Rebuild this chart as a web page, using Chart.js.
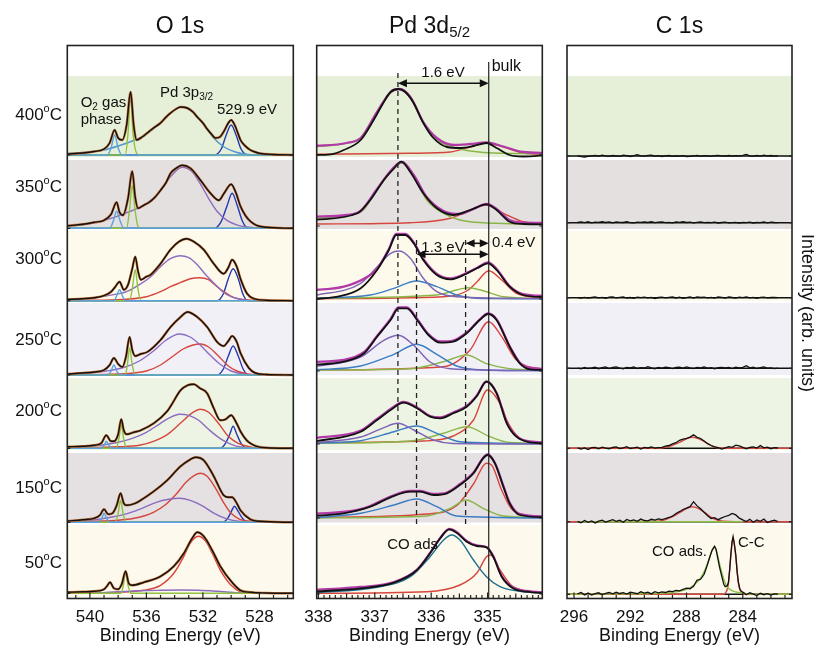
<!DOCTYPE html>
<html><head><meta charset="utf-8">
<script src="https://cdn.jsdelivr.net/npm/chart.js@4.4.1/dist/chart.umd.min.js"></script>
<style>
html,body{margin:0;padding:0;background:#fff;}
#wrap{position:relative;width:814px;height:645px;overflow:hidden;background:#fff;}
.cv{position:absolute;top:0;height:645px;}
</style></head><body>
<div id="wrap">
<div class="cv" style="left:0;width:305px"><canvas id="cO" width="305" height="645"></canvas></div>
<div class="cv" style="left:300px;width:260px"><canvas id="cP" width="260" height="645"></canvas></div>
<div class="cv" style="left:555px;width:259px"><canvas id="cC" width="259" height="645"></canvas></div>
</div>
<script>
// ---------------- DATA ----------------
const temps = ['400','350','300','250','200','150','50'];
const oTicks = [540,536,532,528];
const pdTicks = [338,337,336,335];
const cTicks = [296,292,288,284];

// O 1s  [binding energy, intensity above row baseline]
const o400Black=[[541.6,1],[540.5,2],[539.7,3.5],[539.0,6],[538.6,12],[538.25,25],[538.0,17],[537.71,15],[537.4,30],[537.12,63],[536.9,30],[536.7,15],[536.3,18],[535.94,22],[535.5,27],[535.0,32],[534.6,38],[534.29,42],[533.9,46],[533.58,48],[533.11,47],[532.7,43],[532.4,38],[532.0,32],[531.7,26],[531.4,21],[531.11,17],[530.8,18],[530.5,24],[530.2,32],[530.0,35],[529.75,30],[529.5,21],[529.34,15],[529.0,9],[528.64,5],[528.3,3],[527.93,1.5],[527.0,0.5],[525.6,0]];
const o400Gas=[[541.6,0],[538.75,0],[538.5,7],[538.25,20],[538.0,7],[537.75,0],[525.6,0]];
const o400Green=[[541.6,0],[537.5,0],[537.3,22],[537.12,60],[536.95,22],[536.7,2],[536.5,0],[525.6,0]];
const o400P3p=[[541.6,1.5],[540.0,3],[539.0,5],[538.0,9],[537.0,14],[536.0,21],[535.0,32],[534.3,42],[533.5,48],[532.8,44],[532.0,32],[531.3,18],[530.5,8],[529.7,3],[528.8,0.5],[527.5,0],[525.6,0]];
const o400Ox=[[541.6,0],[531.2,0],[530.7,6],[530.35,20],[530.0,30],[529.65,20],[529.3,6],[528.8,0],[525.6,0]];

const o350Black=[[541.6,2.5],[540.5,4],[539.7,6],[539.0,8],[538.5,14],[538.11,26],[537.9,16],[537.66,13],[537.3,30],[537.0,57],[536.8,32],[536.6,20],[536.2,23],[535.8,26],[535.4,31],[535.0,38],[534.6,46],[534.29,55],[533.9,60],[533.47,63],[532.88,60],[532.17,48],[531.46,35],[530.87,28],[530.5,35],[530.0,44],[529.65,35],[529.34,22],[529.0,13],[528.64,7],[528.2,3],[527.5,1],[525.6,0]];
const o350Gas=[[541.6,0],[538.6,0],[538.35,7],[538.11,17],[537.85,7],[537.6,0],[525.6,0]];
const o350Green=[[541.6,0],[537.4,0],[537.2,18],[537.0,43],[536.8,18],[536.6,2],[536.4,0],[525.6,0]];
const o350Pur=[[541.6,2],[540.5,3.5],[539.5,6],[538.5,10],[537.5,15],[536.5,21],[535.5,30],[534.8,42],[534.2,53],[533.47,61],[532.8,57],[532.2,45],[531.6,30],[531.0,17],[530.3,8],[529.5,3],[528.7,1],[527.5,0],[525.6,0]];
const o350Ox=[[541.6,0],[531.2,0],[530.7,7],[530.3,22],[529.93,35],[529.55,22],[529.2,7],[528.8,0],[525.6,0]];

const o300Black=[[541.6,1.3],[540.5,2],[539.7,3],[539.0,5],[538.5,9],[538.2,14],[537.9,19],[537.6,11],[537.3,16],[537.0,32],[536.79,44],[536.6,30],[536.4,21],[536.0,24],[535.7,26],[535.0,37],[534.3,51],[533.7,59],[533.16,62],[532.64,59],[531.94,51],[531.23,37],[530.53,27],[530.2,33],[529.93,41],[529.6,34],[529.34,22],[528.87,7],[528.4,2],[527.5,0.5],[525.6,0]];
const o300Gas=[[541.6,0],[538.3,0],[538.1,5],[537.9,11],[537.7,5],[537.5,0],[525.6,0]];
const o300Green=[[541.6,0],[537.2,0],[537.0,12],[536.79,31],[536.6,12],[536.4,0],[525.6,0]];
const o300Pur=[[541.6,1],[540.0,2.5],[538.8,5],[537.4,9],[536.5,16],[535.7,24],[535.0,34],[534.3,42],[533.63,45],[533.0,43],[532.4,36],[531.8,26],[531.1,16],[530.6,9],[530.0,4],[529.2,1],[528.4,0],[525.6,0]];
const o300Red=[[541.6,0.3],[538.0,1],[536.0,4],[535.0,9],[534.3,14],[533.6,18],[532.9,22],[532.22,23],[531.6,21],[531.0,14],[530.3,7],[529.8,3],[529.0,1],[528.0,0],[525.6,0]];
const o300Ox=[[541.6,0],[531.0,0],[530.55,7],[530.2,22],[529.86,32],[529.5,22],[529.15,6],[528.8,0],[525.6,0]];

const o250Black=[[541.6,1],[540.5,2],[539.7,3],[539.0,5],[538.6,10],[538.3,17],[538.0,11],[537.7,8],[537.45,18],[537.19,38],[537.0,25],[536.8,19],[536.4,21],[535.94,23],[535.0,35],[534.29,48],[533.58,58],[533.09,63],[532.4,58],[531.7,48],[530.99,33],[530.53,29],[530.2,34],[529.93,39],[529.6,33],[529.34,22],[528.75,7],[528.3,2],[527.5,0.5],[525.6,0]];
const o250Gas=[[541.6,0],[538.7,0],[538.5,4],[538.3,10],[538.1,4],[537.9,0],[525.6,0]];
const o250Green=[[541.6,0],[537.5,0],[537.35,10],[537.19,27],[537.0,10],[536.8,0],[525.6,0]];
const o250Pur=[[541.6,1],[540.0,2],[538.8,4],[537.5,8],[536.5,14],[535.5,24],[534.6,35],[533.66,41],[532.9,38],[532.2,30],[531.5,20],[530.8,11],[530.0,4],[529.2,1],[528.4,0],[525.6,0]];
const o250Red=[[541.6,0.3],[538.0,1],[536.0,4],[535.0,10],[534.2,18],[533.4,26],[532.7,30],[532.17,31],[531.6,28],[530.9,19],[530.2,9],[529.6,4],[528.8,1],[528.0,0],[525.6,0]];
const o250Ox=[[541.6,0],[531.0,0],[530.55,6],[530.2,19],[529.86,29],[529.5,19],[529.15,6],[528.8,0],[525.6,0]];

const o200Black=[[541.6,1.5],[540.5,2],[539.7,3],[539.2,5],[538.84,13],[538.5,7],[538.3,7],[538.0,14],[537.78,29],[537.6,18],[537.4,14],[536.9,16],[536.41,18],[535.47,25],[534.53,37],[534.29,42],[533.58,58],[533.1,63],[532.64,64],[532.2,60],[531.7,55],[531.23,40],[530.76,28],[530.4,29],[530.0,33],[529.65,26],[529.34,17],[528.9,8],[528.64,5],[528.2,2],[527.5,0.5],[525.6,0]];
const o200Gas=[[541.6,0],[539.2,0],[539.0,3],[538.84,7],[538.65,3],[538.45,0],[525.6,0]];
const o200Green=[[541.6,0],[538.15,0],[537.95,9],[537.78,23],[537.6,9],[537.4,0],[525.6,0]];
const o200Pur=[[541.6,1],[540.0,2],[539.0,3.5],[538.0,6],[537.0,10],[536.0,16],[535.0,25],[534.3,31],[533.66,34],[533.0,33],[532.3,28],[531.6,19],[530.8,10],[530.0,4],[529.2,1],[528.4,0],[525.6,0]];
const o200Red=[[541.6,0.3],[538.0,1.5],[536.5,3],[535.5,7],[534.5,14],[533.6,25],[532.8,35],[532.17,39],[531.6,36],[530.9,25],[530.2,12],[529.5,5],[528.7,1.5],[528.0,0],[525.6,0]];
const o200Ox=[[541.6,0],[530.8,0],[530.4,5],[530.1,14],[529.86,22],[529.6,14],[529.3,5],[528.9,0],[525.6,0]];

const o150Black=[[541.6,1.3],[540.5,2.5],[539.7,4],[539.3,7],[539.0,13],[538.7,8],[538.4,9],[538.1,17],[537.83,29],[537.6,19],[537.4,17],[536.8,19],[536.41,22],[535.47,31],[534.53,42],[533.58,56],[532.88,63],[532.52,65],[531.94,62],[531.23,46],[530.53,27],[530.2,25],[529.93,25],[529.6,19],[529.34,12],[528.64,3],[528.0,1],[525.6,0]];
const o150Gas=[[541.6,0],[539.35,0],[539.15,4],[539.0,9],[538.82,4],[538.6,0],[525.6,0]];
const o150Green=[[541.6,0],[538.2,0],[538.0,9],[537.83,22],[537.65,9],[537.45,0],[525.6,0]];
const o150Pur=[[541.6,0.8],[540.0,2],[538.5,5],[537.3,9],[536.3,14],[535.3,20],[534.4,23],[533.66,24],[532.9,22],[532.1,17],[531.2,9],[530.4,4],[529.5,1],[528.5,0],[525.6,0]];
const o150Red=[[541.6,0.3],[538.0,2],[536.5,5],[535.5,10],[534.7,17],[533.9,28],[533.2,40],[532.6,47],[532.17,49],[531.7,46],[531.1,34],[530.5,19],[530.0,9],[529.4,3],[528.6,1],[527.8,0],[525.6,0]];
const o150Ox=[[541.6,0],[530.6,0],[530.2,5],[529.95,12],[529.77,16],[529.55,12],[529.25,5],[528.9,0],[525.6,0]];

const o50Black=[[541.6,1],[540.5,1.5],[539.7,2],[539.0,4],[538.8,7],[538.58,11],[538.3,5],[538.0,4],[537.75,9],[537.47,22],[537.25,10],[537.0,8],[536.18,11],[535.0,17],[534.06,27],[533.35,40],[532.76,55],[532.4,61],[531.94,57],[531.34,43],[530.76,27],[530.0,12],[529.34,3],[528.6,1],[527.5,0.3],[525.6,0]];
const o50Green=[[541.6,0],[537.8,0],[537.63,8],[537.47,21],[537.3,8],[537.1,0],[525.6,0]];
const o50Pur=[[541.6,0],[539.5,0.5],[538.0,1.5],[536.5,2.5],[535.0,3],[533.6,3.3],[532.3,3],[531.0,2],[529.5,0.5],[528.5,0],[525.6,0]];
const o50Red=[[541.6,0.2],[538.0,1],[536.2,3],[535.0,8],[534.06,20],[533.35,37],[532.9,50],[532.33,57],[531.8,52],[531.34,40],[530.76,23],[530.0,8],[529.34,1.5],[528.5,0],[525.6,0]];

// Pd 3d5/2
const p400Black=[[338.1,0],[337.78,0.7],[337.55,5],[337.25,15],[337.02,35],[336.87,50],[336.72,63],[336.58,66],[336.46,63],[336.31,52],[336.14,32],[335.96,17],[335.72,8],[335.49,7],[335.25,9],[335.02,12],[334.84,7],[334.61,0],[334.37,-1.5],[333.95,0]];
const p400Mag=[[338.1,9],[337.5,12],[337.25,17],[336.96,43],[336.72,63],[336.56,66],[336.37,58],[336.14,33],[335.9,17],[335.6,10],[335.31,11],[335.02,12.5],[334.72,8.5],[334.37,3],[333.95,2]];
const p400Green=[[338.1,8],[337.25,17],[336.96,42],[336.72,62],[336.56,66],[336.37,57],[336.14,32],[335.9,15],[335.49,6],[334.9,2],[333.95,1.3]];
const p400Red=[[338.1,0.7],[336.37,1.7],[335.66,3],[335.31,8],[335.02,12],[334.72,8],[334.37,2],[333.95,0.7]];

const p350Black=[[338.1,6],[337.31,12.7],[337.08,26],[336.84,46],[336.66,57.7],[336.53,64.3],[336.37,54],[336.14,32.7],[335.9,17.7],[335.61,11],[335.31,16],[335.02,21.7],[334.84,16],[334.61,4.3],[334.37,2],[333.95,1.7]];
const p350Mag=[[338.1,9.3],[337.5,11],[337.25,15],[336.96,37],[336.69,57],[336.52,64],[336.31,51],[336.08,29],[335.78,15],[335.49,12],[335.25,17],[335.02,22],[334.84,17],[334.61,6],[334.37,3.5],[333.95,3]];
const p350Green=[[338.1,7.7],[337.25,14],[336.96,36],[336.69,56],[336.52,63],[336.31,49],[336.08,26],[335.78,12.7],[335.49,6],[334.84,2.7],[333.95,1.7]];
const p350Red=[[338.1,2],[336.37,3.3],[335.66,7.7],[335.31,16],[335.02,21],[334.72,12.7],[334.37,4.3],[333.95,2]];

const p300Black=[[338.1,0],[337.66,2.3],[337.25,10.7],[336.96,29],[336.75,49],[336.62,64],[336.46,64],[336.31,55.7],[336.14,39],[335.9,24],[335.66,19.7],[335.49,22.3],[335.19,30.7],[334.99,35.7],[334.84,29],[334.61,12.3],[334.37,4],[333.95,1.7]];
const p300Mag=[[338.1,8.7],[337.55,12.3],[337.13,22.3],[336.96,30],[336.75,50],[336.62,65],[336.46,65],[336.31,56.5],[336.14,40],[335.9,25],[335.66,20.5],[335.49,23],[335.19,31],[334.99,36.5],[334.84,30],[334.61,13],[334.37,5],[333.95,3]];
const p300Pur=[[338.1,3],[337.25,15.7],[336.96,32],[336.72,45.7],[336.56,48],[336.37,40.7],[336.14,20.7],[335.9,7.3],[335.55,2.3],[333.95,0.3]];
const p300Blue=[[338.1,0.7],[337.08,4],[336.66,10.7],[336.26,18],[335.9,12.3],[335.55,4],[335.08,0.5],[333.95,0.3]];
const p300Green=[[338.1,0.7],[335.9,4],[335.55,9],[335.34,11.3],[335.08,8.3],[334.72,2.3],[333.95,0.3]];
const p300Red=[[338.1,0.3],[335.78,2.3],[335.37,8],[335.19,17],[334.98,28.3],[334.75,19],[334.49,5.7],[333.95,0.7]];

const p250Black=[[338.1,6],[337.55,9.3],[337.19,17.7],[336.96,34.3],[336.72,51],[336.58,62.7],[336.43,62.7],[336.25,51],[336.05,36],[335.84,28.3],[335.61,29.3],[335.37,37.7],[335.14,51],[334.99,57],[334.84,51],[334.61,24.3],[334.43,7.7],[334.25,1.7],[333.95,1]];
const p250Mag=[[338.1,9],[337.55,11],[337.19,19],[336.96,35],[336.72,52],[336.58,63.5],[336.43,63.5],[336.25,52],[336.05,37],[335.84,29.5],[335.61,30.5],[335.37,38.5],[335.14,51.5],[334.99,57.5],[334.84,51.5],[334.61,25],[334.43,8.5],[334.25,3],[333.95,2]];
const p250Pur=[[338.1,4],[337.25,14],[336.84,30.7],[336.58,35.7],[336.31,25.7],[336.02,9],[335.66,2.3],[333.95,0.3]];
const p250Blue=[[338.1,1],[337.25,5],[336.66,16.7],[336.26,26.7],[335.9,16.7],[335.55,5],[335.08,1],[333.95,0.3]];
const p250Green=[[338.1,1],[336.37,2.3],[335.78,9.3],[335.37,16],[335.02,7.3],[334.61,2.3],[333.95,1]];
const p250Red=[[338.1,1],[335.78,4.3],[335.31,21],[334.98,49.3],[334.75,34.3],[334.49,11],[333.95,1]];

const p200Black=[[338.1,2.3],[337.25,12.3],[336.96,24],[336.72,34],[336.49,41.3],[336.25,35.7],[336.02,27.3],[335.84,25.7],[335.61,30.7],[335.37,37.3],[335.19,48],[335.02,62.3],[334.84,50.7],[334.66,20.7],[334.49,7.3],[334.25,1.7],[333.95,0.7]];
const p200Mag=[[338.1,5.7],[337.25,13.5],[336.96,25],[336.72,35],[336.49,42],[336.25,36.5],[336.02,28],[335.84,26.5],[335.61,31.5],[335.37,38],[335.19,48.5],[335.02,62.5],[334.84,51],[334.66,21.5],[334.49,8],[334.25,2.5],[333.95,1.5]];
const p200Pur=[[338.1,1],[337.25,7],[336.87,15.7],[336.59,20.7],[336.31,14],[335.96,4],[335.61,0.5],[333.95,0]];
const p200Blue=[[338.1,0.7],[337.25,3.3],[336.66,12.3],[336.26,18],[335.9,10.7],[335.49,2.3],[333.95,0.3]];
const p200Green=[[338.1,0.7],[336.37,3],[335.78,10.7],[335.37,17.3],[334.96,7.3],[334.61,1.5],[333.95,0.7]];
const p200Red=[[338.1,1.3],[336.14,3],[335.61,8],[335.25,24],[335.0,54],[334.75,37.3],[334.66,24],[334.49,9],[334.25,1.5],[333.95,1.3]];

const p150Black=[[338.1,2],[337.55,4.7],[337.08,11.3],[336.72,20.7],[336.37,26.3],[336.19,26.3],[335.96,23],[335.72,24.7],[335.49,33],[335.25,44.7],[335.08,59.7],[335.0,63],[334.87,54.7],[334.72,31.3],[334.61,14.7],[334.43,3],[333.95,0.7]];
const p150Mag=[[338.1,4],[337.31,8],[337.08,12],[336.72,21.5],[336.37,27],[336.19,27],[335.96,24],[335.72,25.5],[335.49,34],[335.25,45.5],[335.08,60],[335.0,63.5],[334.87,55],[334.72,32],[334.61,15.5],[334.43,4],[333.95,1.5]];
const p150Blue=[[338.1,0],[337.25,4.7],[336.66,13],[336.26,19],[335.9,11.3],[335.55,2],[333.95,0]];
const p150Green=[[338.1,0],[336.08,2],[335.66,9.7],[335.38,18],[335.08,9.7],[334.72,2],[333.95,0.5]];
const p150Red=[[338.1,0.5],[336.08,4],[335.55,12.3],[335.25,34],[335.02,54.7],[334.93,53],[334.75,27.7],[334.55,7.7],[333.95,0.5]];

const p50Black=[[338.1,2.3],[337.25,5.7],[336.66,11.3],[336.25,24],[336.02,40.7],[335.84,55.7],[335.68,64.7],[335.55,61.3],[335.37,52.3],[335.19,48],[335.02,46.7],[334.9,37.3],[334.75,17.3],[334.55,5.7],[334.31,2.3],[333.95,0.7]];
const p50Mag=[[338.1,4],[337.25,7],[336.66,12],[336.25,24.5],[336.02,41],[335.84,56],[335.68,65],[335.55,62],[335.37,53],[335.19,48.5],[335.02,47],[334.9,38],[334.75,18],[334.55,6.5],[334.31,3],[333.95,1.5]];
const p50Teal=[[338.1,1.3],[336.96,6.7],[336.37,17.3],[336.02,37.3],[335.78,54],[335.64,59],[335.49,54],[335.25,34],[335.02,17.3],[334.78,7.3],[334.37,2.3],[333.95,1.3]];
const p50Red=[[338.1,0.7],[336.08,2.3],[335.49,9],[335.19,21],[335.02,37.3],[334.95,39],[334.78,24],[334.55,7.3],[333.95,0.7]];

// C 1s : energies of the measured points (shared by the rows)
const cEnergy=[295.75,295.5,295.25,295.0,294.75,294.5,294.25,294.0,293.75,293.5,293.25,293.0,292.75,292.5,292.25,292.0,291.75,291.5,291.25,291.0,290.75,290.5,290.25,290.0,289.75,289.5,289.25,289.0,288.75,288.5,288.25,288.0,287.75,287.5,287.25,287.0,286.75,286.5,286.25,286.0,285.75,285.5,285.25,285.0,284.75,284.5,284.25,284.0,283.75,283.5,283.25,283.0,282.75,282.5,282.25,282.0,281.75,281.5];
const c400=[0.3,-0.6,-1.0,-0.3,0.2,0.6,-0.2,0.9,0.1,-0.4,0.5,0.2,-0.3,0.8,0.4,-0.5,0.3,1.3,0.2,-0.2,0.6,0.8,-0.2,0.4,-0.5,0.1,0.5,-0.4,0.2,-0.1,0.4,-0.6,-0.3,0.2,0.7,-0.3,0.3,0.1,-0.4,0.3,0.6,0.2,-0.2,0.5,-0.1,0.3,0.1,0.7,1.6,0.2,-0.4,0.6,-0.2,0.9,0.2,0.5,-0.2,0.1];
const c350=[0.2,0.8,0.1,1.0,-0.2,0.6,0.3,1.1,0.2,0.7,-0.1,0.9,0.4,0.2,1.0,0.1,-0.2,0.6,0.3,0.8,0.2,1.1,0.0,0.5,0.9,0.1,0.4,-0.1,0.7,0.3,1.0,0.2,0.5,-0.2,0.3,0.8,0.1,0.4,0.0,0.6,-0.3,0.2,0.5,-0.2,0.1,0.4,-0.4,0.3,0.0,0.5,-0.3,0.4,0.1,0.8,-0.2,0.6,0.2,0.0];
const c300=[0.1,-0.3,0.4,-0.5,0.2,0.7,-0.2,0.3,-0.6,0.5,0.8,-0.1,0.4,0.9,-0.3,0.2,-0.7,0.5,0.1,0.6,-0.2,0.3,-0.8,0.2,0.6,-0.1,0.4,0.7,-0.3,0.5,-0.6,0.1,0.8,-0.4,0.9,0.2,0.6,-0.2,0.3,-0.5,0.7,0.4,-0.3,0.8,0.2,-0.5,0.6,0.1,0.9,-0.2,0.4,-0.6,0.3,0.5,-0.1,0.2,0.4,0.0];
const c250=[0.2,-0.5,0.9,-0.2,0.4,1.2,-0.4,0.6,1.4,-0.3,0.8,1.5,0.2,-0.6,1.0,0.4,1.3,-0.2,0.7,0.3,1.6,0.5,-0.4,0.9,0.2,1.1,0.6,-0.3,0.8,1.2,0.1,1.4,0.4,-0.2,0.9,0.5,1.3,0.2,0.7,-0.4,0.6,1.0,0.3,0.8,-0.3,1.2,0.5,0.9,2.6,0.4,1.1,-0.2,0.7,1.3,0.1,0.5,-0.3,0.2];
const c200=[0.5,-0.8,0.3,-1.2,0.6,0.9,-0.5,1.2,0.2,-0.6,0.8,1.4,-0.3,0.5,1.6,-0.2,0.4,1.1,-0.7,0.9,0.3,1.3,0.1,0.7,1.0,2.2,2.8,4.5,5.6,8.0,9.2,10.0,11.2,13.5,11.0,9.8,7.2,4.6,2.8,1.5,0.6,-0.8,0.4,1.6,0.9,3.2,2.4,1.0,-0.6,0.8,1.5,0.2,2.8,0.5,1.2,-0.4,0.6,0.3];
const c150=[0.3,-1.0,1.2,-0.6,0.8,-1.2,0.5,1.6,-0.4,0.9,2.0,0.3,1.4,-0.5,2.2,0.8,1.8,0.4,2.6,1.2,0.8,2.4,1.6,2.8,2.0,3.2,4.2,5.5,8.2,10.0,12.2,13.5,15.0,20.0,15.8,13.0,9.5,6.0,3.2,4.0,2.0,3.8,5.2,6.4,8.2,6.8,3.6,1.8,0.2,2.5,-0.5,1.8,0.4,2.6,-0.8,0.5,1.6,0.2];
const c50Black=[[295.75,0.5],[295.5,1.8],[295.25,-0.6],[295.0,1.2],[294.75,-0.8],[294.5,0.6],[294.25,1.5],[294.0,-0.3],[293.75,0.9],[293.5,1.8],[293.25,0.4],[293.0,2.0],[292.75,0.8],[292.5,1.6],[292.25,0.2],[292.0,2.2],[291.75,1.4],[291.5,0.6],[291.25,2.5],[291.0,1.2],[290.75,2.0],[290.5,0.4],[290.25,2.6],[290.0,1.5],[289.75,2.4],[289.5,1.8],[289.25,3.2],[289.0,2.6],[288.75,4.0],[288.5,3.4],[288.25,5.0],[288.0,6.2],[287.75,5.6],[287.5,8.0],[287.26,14],[287.0,15],[286.75,20],[286.55,28],[286.35,37],[286.19,44],[286.01,48],[285.9,45],[285.8,37.7],[285.65,27],[285.49,17.7],[285.35,10],[285.25,7.7],[285.1,8.5],[285.02,12],[284.93,25],[284.85,40],[284.77,52],[284.69,57.7],[284.6,50],[284.5,40],[284.4,22],[284.31,12],[284.2,5],[284.07,2.7],[283.9,1.2],[283.75,-0.5],[283.5,1.5],[283.25,0.2],[283.0,-1.2],[282.75,1.0],[282.5,-0.4],[282.25,0.6],[282.0,-0.8],[281.75,0.5],[281.5,0.2]];
const c200Red=[[296.6,0],[290.0,0],[289.5,1],[289.0,3],[288.5,6],[288.0,9.5],[287.6,11],[287.2,10],[286.7,6.5],[286.2,2.5],[285.8,0.5],[285.4,0],[280.4,0]];
const c150Red=[[296.6,0],[290.0,0.5],[289.5,2],[289.0,5],[288.5,9],[288.0,13],[287.6,15],[287.2,13.5],[286.7,9],[286.2,4],[285.8,1.5],[285.4,0.5],[284.5,0],[280.4,0]];
const c150Green=[[295.75,0],[284.0,0]];
const c50Green=[[296.6,0],[292.0,0.5],[290.0,1],[289.0,2],[288.0,5],[287.5,9],[287.02,16],[286.7,24],[286.43,34],[286.2,43],[286.01,47.6],[285.85,42],[285.61,28],[285.35,15],[285.13,8],[284.8,4],[284.19,1.5],[283.5,0.3],[282.0,0],[280.4,0]];
const c50Red=[[296.6,0],[285.4,0],[285.25,1],[285.02,11],[284.85,38],[284.69,57],[284.5,38],[284.31,11],[284.07,1],[283.9,0],[280.4,0]];

// reference energies of the Pd guide lines
const pdDashE=[336.59,336.26,335.39];
const pdBulkE=334.98;

// ---------------- LAYOUT / STYLE ----------------
const FONT="'Liberation Sans', Arial, Helvetica, sans-serif";
const TOP=45.5, BOT=598.5, YMAX=BOT-TOP;
const bandColors=['#e6f0d8','#e5e0e0','#fdfaec','#f2f0f7','#eef4e3','#e5e0e1','#fdf9ec'];
const bandPy=[[76,157],[160,229],[231,301],[303,375],[378,450],[453,522.5],[525,598.5]];
const tempLabelPy=[115,187,259,340,411,488,563];
const oOff=[443.5,370.2,297.8,223.5,150.2,76.2,5.2];
const pOff=[443.5,372.5,299.5,227.5,154.5,80.5,4.5];
const cOff=[442.5,375.8,300.8,230.2,150.2,76.8,4.2];
const COL={black:'#111111',env:'#c8753a',gas:'#5aa2dc',green:'#8cc43f',p3p:'#4f94d4',pur:'#8b6cc0',red:'#d6463e',dblue:'#2438b0',mag:'#b23aa8',pgreen:'#8ab648',pblue:'#3a7dc4',ppur:'#7e63b6',teal:'#1d6f8c',cgreen:'#8dbf45'};

function line(points, off, color, width, order, straight){
  return {data:points.map(p=>({x:p[0],y:off+p[1]})), borderColor:color, borderWidth:width,
    pointRadius:0, fill:false, order:order, tension: straight?0:0.4,
    cubicInterpolationMode: straight?'default':'monotone'};
}
const gridLine=(vals)=>cEnergy.map((e,i)=>[e,vals[i]]);

// O datasets
const oRows=[
  [o400Black,[[o400Gas,COL.gas],[o400Green,COL.green],[o400P3p,COL.p3p],[o400Ox,COL.dblue]]],
  [o350Black,[[o350Gas,COL.gas],[o350Green,COL.green],[o350Pur,COL.pur],[o350Ox,COL.dblue]]],
  [o300Black,[[o300Gas,COL.gas],[o300Green,COL.green],[o300Pur,COL.pur],[o300Red,COL.red],[o300Ox,COL.dblue]]],
  [o250Black,[[o250Gas,COL.gas],[o250Green,COL.green],[o250Pur,COL.pur],[o250Red,COL.red],[o250Ox,COL.dblue]]],
  [o200Black,[[o200Gas,COL.gas],[o200Green,COL.green],[o200Pur,COL.pur],[o200Red,COL.red],[o200Ox,COL.dblue]]],
  [o150Black,[[o150Gas,COL.gas],[o150Green,COL.green],[o150Pur,COL.pur],[o150Red,COL.red],[o150Ox,COL.dblue]]],
  [o50Black,[[o50Green,COL.green],[o50Pur,COL.pur],[o50Red,COL.red]]]
];
const oSets=[];
oRows.forEach((r,i)=>{
  r[1].forEach(c=>oSets.push(line(c[0],oOff[i],c[1],1.4,3)));
  oSets.push(line(r[0],oOff[i],COL.env,2.5,2));
  oSets.push(line(r[0],oOff[i],COL.black,1.4,1));
});
// Pd datasets
const pRows=[
  [p400Black,p400Mag,[[p400Green,COL.pgreen],[p400Red,COL.red]]],
  [p350Black,p350Mag,[[p350Green,COL.pgreen],[p350Red,COL.red]]],
  [p300Black,p300Mag,[[p300Pur,COL.ppur],[p300Blue,COL.pblue],[p300Green,COL.pgreen],[p300Red,COL.red]]],
  [p250Black,p250Mag,[[p250Pur,COL.ppur],[p250Blue,COL.pblue],[p250Green,COL.pgreen],[p250Red,COL.red]]],
  [p200Black,p200Mag,[[p200Pur,COL.ppur],[p200Blue,COL.pblue],[p200Green,COL.pgreen],[p200Red,COL.red]]],
  [p150Black,p150Mag,[[p150Blue,COL.pblue],[p150Green,COL.pgreen],[p150Red,COL.red]]],
  [p50Black,p50Mag,[[p50Teal,COL.teal],[p50Red,COL.red]]]
];
const pSets=[];
pRows.forEach((r,i)=>{
  r[2].forEach(c=>pSets.push(line(c[0],pOff[i],c[1],1.4,3)));
  pSets.push(line(r[1],pOff[i],COL.mag,2.3,2));
  pSets.push(line(r[0],pOff[i],COL.black,1.8,1));
});
// C datasets
const cSets=[];
const cNoise=[c400,c350,c300,c250,c200,c150];
cOff.forEach((off)=>cSets.push(line([[296.6,0],[280.4,0]],off,COL.black,1.5,4,true)));
cSets.push(line(c200Red,cOff[4],COL.red,1.4,3));
cSets.push(line(c150Green,cOff[5],COL.cgreen,1.4,3,true));
cSets.push(line(c150Red,cOff[5],COL.red,1.4,3));
cSets.push(line(c50Green,cOff[6],COL.cgreen,1.4,3));
cSets.push(line(c50Red,cOff[6],COL.red,1.4,3));
cNoise.forEach((v,i)=>cSets.push(line(gridLine(v),cOff[i],COL.black,1.3,1,true)));
cSets.push(line(c50Black,cOff[6],COL.black,1.3,1,true));

// ---------------- DRAW HELPERS ----------------
function rich(ctx,parts,x,y,align){
  let w=0;
  parts.forEach(p=>{ctx.font=p[1]+'px '+FONT;w+=ctx.measureText(p[0]).width;});
  let cx=align==='center'?x-w/2:align==='right'?x-w:x;
  ctx.textAlign='left';ctx.textBaseline='middle';ctx.fillStyle='#111';
  parts.forEach(p=>{ctx.font=p[1]+'px '+FONT;ctx.fillText(p[0],cx,y+(p[2]||0));cx+=ctx.measureText(p[0]).width;});
}
function arrow(ctx,x1,x2,y){
  ctx.beginPath();ctx.moveTo(x1+5,y);ctx.lineTo(x2-5,y);ctx.lineWidth=1.6;ctx.strokeStyle='#111';ctx.stroke();
  [[x1,1],[x2,-1]].forEach(a=>{ctx.beginPath();ctx.moveTo(a[0],y);ctx.lineTo(a[0]+a[1]*9,y-4);ctx.lineTo(a[0]+a[1]*9,y+4);ctx.closePath();ctx.fillStyle='#111';ctx.fill();});
}

function panelPlugin(ox, minorStep, majorStep, midStep, offs, extra){
  return {
    id:'panel'+ox,
    beforeDatasetsDraw(chart){
      const {ctx,chartArea:ca}=chart;
      ctx.save();
      bandPy.forEach((b,i)=>{ctx.fillStyle=bandColors[i];ctx.fillRect(ca.left,b[0],ca.right-ca.left,b[1]-b[0]);});
      ctx.restore();
    },
    afterDatasetsDraw(chart){
      const {ctx,chartArea:ca,scales:{x,y}}=chart;
      ctx.save();
      if(extra&&extra.lines) extra.lines(chart,ctx);
      ctx.strokeStyle='#222';ctx.lineWidth=1.6;
      ctx.strokeRect(ca.left,ca.top,ca.right-ca.left,ca.bottom-ca.top);
      const lo=Math.min(x.min,x.max), hi=Math.max(x.min,x.max);
      const n0=Math.ceil(lo/minorStep-1e-6), n1=Math.floor(hi/minorStep+1e-6);
      ctx.lineWidth=1.2;
      for(let n=n0;n<=n1;n++){
        const v=n*minorStep, px=x.getPixelForValue(v);
        const isMaj=Math.abs(v/majorStep-Math.round(v/majorStep))<1e-6;
        const isMid=midStep&&Math.abs(v/midStep-Math.round(v/midStep))<1e-6;
        const len=isMaj?6:(isMid?5:3.5);
        ctx.beginPath();ctx.moveTo(px,ca.bottom);ctx.lineTo(px,ca.bottom-len);ctx.stroke();
      }
      offs.forEach(o=>{const py=y.getPixelForValue(o);
        ctx.beginPath();ctx.moveTo(ca.left,py);ctx.lineTo(ca.left+3,py);ctx.moveTo(ca.right,py);ctx.lineTo(ca.right-3,py);ctx.stroke();});
      ctx.restore();
    },
    afterDraw(chart){
      const {ctx}=chart;
      ctx.save();
      if(extra&&extra.texts) extra.texts(chart,ctx);
      ctx.restore();
    }
  };
}

function makeChart(id, ox, width, panelL, panelR, xmin, xmax, majors, plugin, sets){
  return new Chart(document.getElementById(id),{
    type:'line',
    data:{datasets:sets},
    options:{
      responsive:false, animation:false, devicePixelRatio:1, events:[],
      layout:{padding:{left:panelL-ox, right:ox+width-panelR, top:TOP, bottom:0}},
      plugins:{legend:{display:false},tooltip:{enabled:false},title:{display:false}},
      scales:{
        x:{type:'linear', reverse:true, min:xmin, max:xmax,
          afterBuildTicks:s=>{s.ticks=majors.map(v=>({value:v}));},
          afterFit:s=>{s.height=645-BOT;s.paddingLeft=0;s.paddingRight=0;},
          grid:{display:false,drawTicks:false}, border:{display:false},
          ticks:{font:{family:FONT,size:17},color:'#111',padding:9,autoSkip:false,maxRotation:0,callback:v=>String(v)},
          title:{display:true,text:'Binding Energy (eV)',color:'#111',font:{family:FONT,size:18,lineHeight:1},padding:{top:0,bottom:0}}
        },
        y:{display:false,min:0,max:YMAX}
      }
    },
    plugins:[plugin]
  });
}

// ---------------- CHARTS ----------------
const oExtra={
  texts(chart,ctx){
    const ox=0;
    rich(ctx,[['O 1s',23]],180-ox,27,'center');
    temps.forEach((t,i)=>rich(ctx,[[t,17],['o',11,-6],['C',17]],62-ox,tempLabelPy[i],'right'));
    rich(ctx,[['O',15],['2',10,4],[' gas',15]],80.7-ox,103.3,'left');
    rich(ctx,[['phase',15]],80.7-ox,120,'left');
    rich(ctx,[['Pd 3p',15],['3/2',10,4]],160-ox,93.3,'left');
    rich(ctx,[['529.9 eV',15]],217-ox,110,'left');
  }
};
const pExtra={
  lines(chart,ctx){
    const x=chart.scales.x;
    ctx.strokeStyle='#222';ctx.lineWidth=1.3;ctx.setLineDash([5,4]);
    const spans=[[73,435],[240,527],[240,527]];
    pdDashE.forEach((e,i)=>{const px=x.getPixelForValue(e);ctx.beginPath();ctx.moveTo(px,spans[i][0]);ctx.lineTo(px,spans[i][1]);ctx.stroke();});
    ctx.setLineDash([]);
    const bx=x.getPixelForValue(pdBulkE);
    ctx.lineWidth=1.2;ctx.beginPath();ctx.moveTo(bx,62);ctx.lineTo(bx,BOT);ctx.stroke();
    arrow(ctx,x.getPixelForValue(pdDashE[0]),bx,83.3);
    arrow(ctx,x.getPixelForValue(pdDashE[1]),bx,254.3);
    arrow(ctx,x.getPixelForValue(pdDashE[2]),bx,243.3);
  },
  texts(chart,ctx){
    const ox=300;
    rich(ctx,[['Pd 3d',23],['5/2',15,6]],429.5-ox,27,'center');
    rich(ctx,[['1.6 eV',15]],443-ox,72.5,'center');
    rich(ctx,[['bulk',16]],491.7-ox,67,'left');
    rich(ctx,[['1.3 eV',15]],443-ox,248.3,'center');
    rich(ctx,[['0.4 eV',15]],492-ox,243.3,'left');
    rich(ctx,[['CO ads',15]],438-ox,545,'right');
  }
};
const cExtra={
  texts(chart,ctx){
    const ox=555;
    rich(ctx,[['C 1s',23]],679.5-ox,27,'center');
    rich(ctx,[['CO ads.',15]],707-ox,551.7,'right');
    rich(ctx,[['C-C',15]],738-ox,543,'left');
    ctx.save();ctx.translate(806.5-ox,313);ctx.rotate(Math.PI/2);
    rich(ctx,[['Intensity (arb. units)',18]],0,0,'center');
    ctx.restore();
  }
};

makeChart('cO',0,305,67.3,293.3,525.6,541.6,oTicks,panelPlugin(0,1,4,0,oOff,oExtra),oSets);
makeChart('cP',300,260,316.7,542.3,334.03,338.03,pdTicks,panelPlugin(300,0.1,1,0.5,pOff,pExtra),pSets);
makeChart('cC',555,259,567,792,280.5,296.5,cTicks,panelPlugin(555,1,4,0,cOff,cExtra),cSets);
</script>
</body></html>
